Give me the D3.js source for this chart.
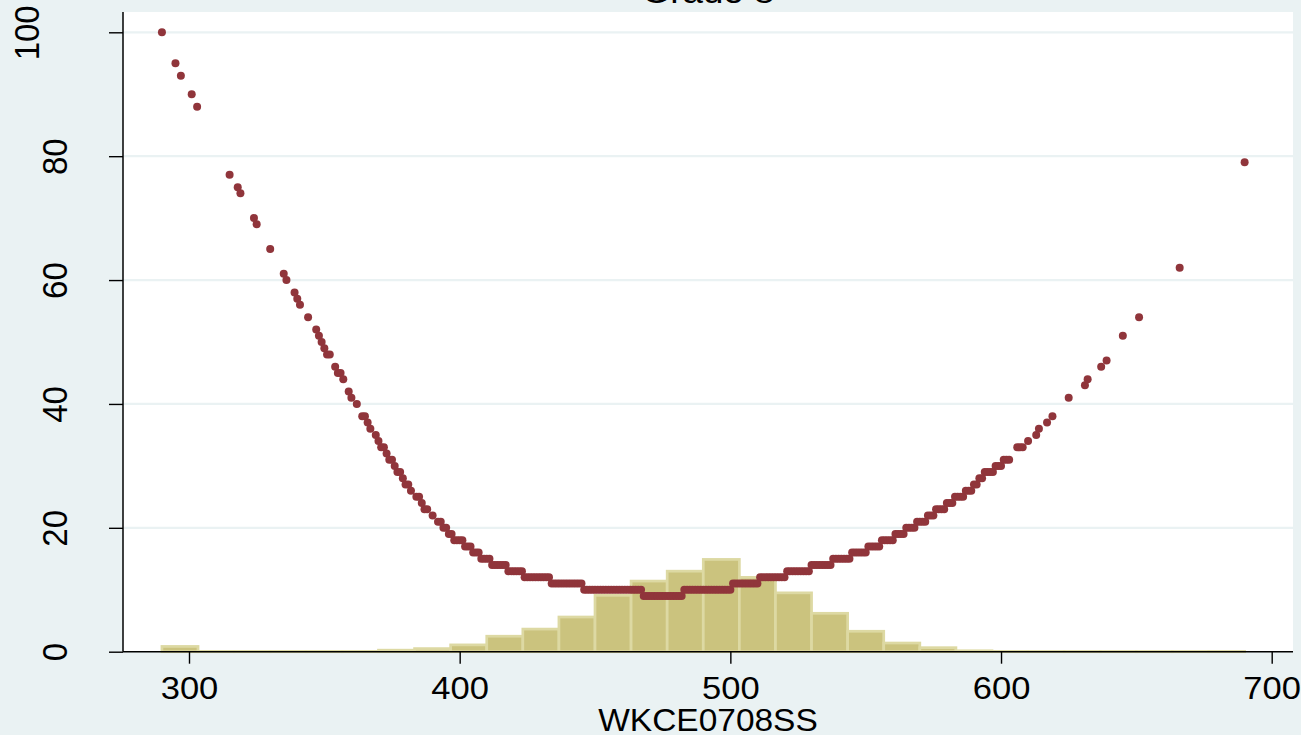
<!DOCTYPE html>
<html>
<head>
<meta charset="utf-8">
<script src="https://cdn.jsdelivr.net/npm/d3@7/dist/d3.min.js"></script>
<style>
  html, body { margin: 0; padding: 0; background: #EAF2F3; }
  svg { display: block; }
  text { font-family: "Liberation Sans", Arial, sans-serif; fill: #000; }
</style>
</head>
<body>
<svg id="chart" width="1301" height="735"></svg>
<script>
// Axis ticks
const xTicks = [300, 400, 500, 600, 700];
const yTicks = [0, 20, 40, 60, 80, 100];

// Histogram of scale scores (percent per bin), 30 bins from 290 to 690
const binLow = 290;
const binHigh = 690;
const binPercent = [0.85, 0.05, 0.05, 0.05, 0.05, 0.05, 0.25, 0.5, 1.1, 2.5,
                    3.65, 5.6, 9.1, 11.4, 13.0, 14.9, 12.0, 9.5, 6.2, 3.3,
                    1.4, 0.65, 0.15, 0.05, 0.04, 0.04, 0.04, 0.04, 0.04, 0.04];

// Standard error by scale score, as runs of consecutive scores sharing one value
const runFrom = [290, 295, 297, 301, 303, 315, 318, 319, 324, 325,
                 330, 335, 336, 339, 340, 341, 344, 347, 348, 349,
                 350, 351, 354, 355, 357, 359, 360, 362, 364, 366,
                 367, 369, 370, 371, 373, 374, 376, 377, 379, 380,
                 382, 384, 386, 387, 390, 392, 394, 396, 398, 402,
                 405, 408, 412, 418, 424, 434, 446, 468, 483, 501,
                 511, 521, 530, 538, 545, 551, 556, 561, 565, 569,
                 573, 576, 580, 583, 587, 590, 592, 594, 598, 601,
                 606, 610, 613, 614, 617, 619, 625, 631, 632, 637,
                 639, 645, 651, 666, 690];
const runTo   = [290, 295, 297, 301, 303, 315, 318, 319, 324, 325,
                 330, 335, 336, 339, 340, 341, 344, 347, 348, 349,
                 350, 352, 354, 356, 357, 359, 360, 362, 365, 366,
                 367, 369, 370, 372, 373, 375, 376, 378, 379, 381,
                 382, 385, 386, 388, 390, 393, 395, 397, 401, 404,
                 407, 411, 417, 423, 433, 445, 467, 482, 500, 510,
                 520, 529, 537, 544, 550, 555, 560, 564, 568, 572,
                 575, 579, 582, 586, 589, 591, 593, 597, 600, 603,
                 608, 610, 613, 614, 617, 619, 625, 631, 632, 637,
                 639, 645, 651, 666, 690];
const runSem  = [100, 95, 93, 90, 88, 77, 75, 74, 70, 69,
                 65, 61, 60, 58, 57, 56, 54, 52, 51, 50,
                 49, 48, 46, 45, 44, 42, 41, 40, 38, 37,
                 36, 35, 34, 33, 32, 31, 30, 29, 28, 27,
                 26, 25, 24, 23, 22, 21, 20, 19, 18, 17,
                 16, 15, 14, 13, 12, 11, 10, 9, 10, 11,
                 12, 13, 14, 15, 16, 17, 18, 19, 20, 21,
                 22, 23, 24, 25, 26, 27, 28, 29, 30, 31,
                 33, 34, 35, 36, 37, 38, 41, 43, 44, 46,
                 47, 51, 54, 62, 79];

const titleText = "Grade 8";
const xTitle = "WKCE0708SS";

// Layout
const W = 1301, H = 735;
const plot = { left: 123, right: 1293, top: 12, bottom: 651.7 };
const stretch = "scale(1.08,1)";

const svg = d3.select("#chart");

const x = d3.scaleLinear().domain([300, 700]).range([189, 1271.7]);
const y = d3.scaleLinear().domain([0, 100]).range([plot.bottom, 32.3]);

// Background and plot region
svg.append("rect").attr("width", W).attr("height", H).attr("fill", "#EAF2F3");
svg.append("rect")
  .attr("x", plot.left).attr("y", plot.top)
  .attr("width", plot.right - plot.left).attr("height", plot.bottom - plot.top)
  .attr("fill", "#FFFFFF");

// Horizontal grid lines
svg.append("g").selectAll("line")
  .data(yTicks.filter(d => d > 0))
  .join("line")
  .attr("x1", plot.left).attr("x2", plot.right)
  .attr("y1", d => y(d)).attr("y2", d => y(d))
  .attr("stroke", "#EAF2F3").attr("stroke-width", 2.2);

// Histogram bars
const binW = (binHigh - binLow) / binPercent.length;
const bins = binPercent.map((p, i) => ({ x0: binLow + i * binW, x1: binLow + (i + 1) * binW, p }));
svg.append("g").selectAll("rect")
  .data(bins)
  .join("rect")
  .attr("x", d => x(d.x0))
  .attr("width", d => x(d.x1) - x(d.x0))
  .attr("y", d => y(d.p))
  .attr("height", d => y(0) - y(d.p))
  .attr("fill", "#CBC37E")
  .attr("stroke", "#DDD9A3")
  .attr("stroke-width", 2.7);

// Scatter of standard error by score
const points = [];
runFrom.forEach((from, i) => {
  for (let s = from; s <= runTo[i]; s++) points.push({ score: s, sem: runSem[i] });
});
svg.append("g").selectAll("circle")
  .data(points)
  .join("circle")
  .attr("cx", d => x(d.score))
  .attr("cy", d => y(d.sem))
  .attr("r", 4)
  .attr("fill", "#90353B");

// X axis
const xAxis = svg.append("g")
  .attr("transform", `translate(0,${plot.bottom})`)
  .call(d3.axisBottom(x).tickValues(xTicks).tickSize(12).tickSizeOuter(0).tickPadding(0));
xAxis.select(".domain").remove();
xAxis.selectAll(".tick line").attr("stroke", "#000").attr("stroke-width", 1.4);
xAxis.selectAll(".tick text")
  .attr("y", 47).attr("dy", null)
  .attr("transform", stretch)
  .style("font-size", "32px")
  .style("font-family", "'Liberation Sans', Arial, sans-serif");

// Y axis
const yAxis = svg.append("g")
  .attr("transform", `translate(${plot.left},0)`)
  .call(d3.axisLeft(y).tickValues(yTicks).tickSize(14).tickSizeOuter(0));
yAxis.select(".domain").remove();
yAxis.selectAll(".tick line").attr("stroke", "#000").attr("stroke-width", 1.4);
yAxis.selectAll(".tick text")
  .attr("x", 0).attr("y", 0).attr("dy", null)
  .attr("text-anchor", "middle")
  .attr("transform", d => {
    const bx = String(d).length > 2 ? -84.5 : -56;
    return `translate(${bx},0) ${stretch} rotate(-90)`;
  })
  .style("font-size", "33px")
  .style("font-family", "'Liberation Sans', Arial, sans-serif");

// Axis lines
svg.append("line")
  .attr("x1", plot.left).attr("x2", plot.right)
  .attr("y1", plot.bottom).attr("y2", plot.bottom)
  .attr("stroke", "#000").attr("stroke-width", 1.5);
svg.append("line")
  .attr("x1", plot.left).attr("x2", plot.left)
  .attr("y1", plot.top).attr("y2", plot.bottom)
  .attr("stroke", "#000").attr("stroke-width", 1.5);

// Titles
const cx = (plot.left + plot.right) / 2;
svg.append("text")
  .attr("transform", `translate(${cx},3) ${stretch}`)
  .attr("text-anchor", "middle")
  .style("font-size", "34px")
  .text(titleText);
svg.append("text")
  .attr("transform", `translate(${cx},731) ${stretch}`)
  .attr("text-anchor", "middle")
  .style("font-size", "31px")
  .text(xTitle);
</script>
</body>
</html>
